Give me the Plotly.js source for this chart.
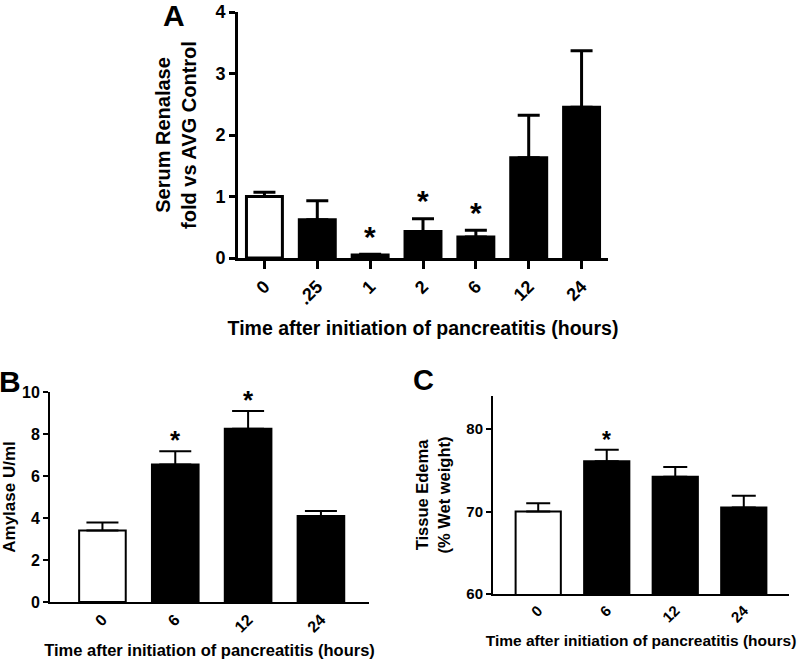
<!DOCTYPE html>
<html><head><meta charset="utf-8">
<script src="https://cdn.plot.ly/plotly-3.0.1.min.js"></script>
<style>html,body{margin:0;padding:0;background:#fff}#chart{width:800px;height:661px}</style>
</head><body><div id="chart"></div>
<script>
// ---- data ----
const catsA = ['0', '.25', '1', '2', '6', '12', '24'];
const valsA = [1.0, 0.62, 0.05, 0.43, 0.34, 1.63, 2.45];
const errA  = [0.07, 0.31, 0.01, 0.21, 0.11, 0.69, 0.92];
const sigA  = [false, false, true, true, true, false, false];

const catsB = ['0', '6', '12', '24'];
const valsB = [3.4, 6.55, 8.25, 4.1];
const errB  = [0.38, 0.63, 0.85, 0.23];
const sigB  = [false, true, true, false];

const catsC = ['0', '6', '12', '24'];
const valsC = [70.0, 76.1, 74.2, 70.5];
const errC  = [1.0, 1.4, 1.2, 1.4];
const sigC  = [false, true, false, false];

const yTitleA = 'Serum Renalase<br>fold vs AVG Control';
const yTitleB = 'Amylase U/ml';
const yTitleC = 'Tissue Edema<br>(% Wet weight)';
const xTitle = 'Time after initiation of pancreatitis (hours)';
const panelLabels = ['A', 'B', 'C'];

// ---- build ----
const FAM = 'Liberation Sans, Arial, Helvetica, sans-serif';
function font(size) { return {family: FAM, size: size, color: '#000', weight: 'bold'}; }

function barTrace(cats, vals, errs, xa, ya, w, lw, capw) {
  return {
    type: 'bar', x: cats, y: vals, xaxis: xa, yaxis: ya, width: w,
    marker: {color: cats.map((c, i) => i === 0 ? '#ffffff' : '#000000'),
             line: {color: '#000000', width: lw}},
    error_y: {type: 'data', symmetric: false, array: errs, arrayminus: errs.map(() => 0),
              color: '#000000', thickness: lw, width: capw},
    hoverinfo: 'skip'
  };
}

const data = [
  barTrace(catsA, valsA, errA, 'x', 'y', 0.68, 3, 11),
  barTrace(catsB, valsB, errB, 'x2', 'y2', 0.64, 2, 16),
  barTrace(catsC, valsC, errC, 'x3', 'y3', 0.66, 2, 12)
];

// significance stars: x given as the category's serial index on its category axis
function stars(cats, vals, errs, sig, xr, yr, size, shift) {
  const out = [];
  cats.forEach((c, i) => {
    if (sig[i]) out.push({x: i, y: vals[i] + errs[i], xref: xr, yref: yr, text: '*',
      showarrow: false, xanchor: 'center', yanchor: 'middle', yshift: shift, font: font(size)});
  });
  return out;
}

const annotations = [].concat(
  stars(catsA, valsA, errA, sigA, 'x', 'y', 30, 18),
  stars(catsB, valsB, errB, sigB, 'x2', 'y2', 26, 11),
  stars(catsC, valsC, errC, sigC, 'x3', 'y3', 23, 10),
  [
    {text: panelLabels[0], x: 173.5 / 800, y: 1 - 15 / 661, xref: 'paper', yref: 'paper', showarrow: false, xanchor: 'center', yanchor: 'middle', font: font(30)},
    {text: panelLabels[1], x: 10 / 800, y: 1 - 381 / 661, xref: 'paper', yref: 'paper', showarrow: false, xanchor: 'center', yanchor: 'middle', font: font(30)},
    {text: panelLabels[2], x: 423 / 800, y: 1 - 380 / 661, xref: 'paper', yref: 'paper', showarrow: false, xanchor: 'center', yanchor: 'middle', font: font(29)}
  ]
);

function xax(domain, anchor, range, lw, ticks, tlen, tfs, titleSize, standoff) {
  return {domain: domain, anchor: anchor, type: 'category', range: range,
    showline: true, linecolor: '#000', linewidth: lw, mirror: false,
    ticks: ticks, ticklen: tlen, tickwidth: lw, tickcolor: '#000',
    tickangle: -45, tickfont: font(tfs), showgrid: false, zeroline: false,
    title: {text: xTitle, font: font(titleSize), standoff: standoff}, fixedrange: true};
}
function yax(domain, anchor, range, tickvals, lw, tlen, tfs, title, titleSize, standoff) {
  return {domain: domain, anchor: anchor, range: range, tickmode: 'array', tickvals: tickvals,
    showline: true, linecolor: '#000', linewidth: lw,
    ticks: 'outside', ticklen: tlen, tickwidth: lw, tickcolor: '#000',
    tickfont: font(tfs), showgrid: false, zeroline: false,
    title: {text: title, font: font(titleSize), standoff: standoff}, fixedrange: true};
}

const layout = {
  width: 800, height: 661, margin: {l: 0, r: 0, t: 0, b: 0},
  paper_bgcolor: '#fff', plot_bgcolor: '#fff', showlegend: false, bargap: 0,
  xaxis:  xax([238 / 800, 608 / 800], 'y', [-0.5, 6.5], 3, 'outside', 8, 18, 19.5, 14),
  yaxis:  yax([1 - 258 / 661, 1 - 12 / 661], 'x', [0, 4], [0, 1, 2, 3, 4], 3, 6, 18, yTitleA, 20, 14),
  xaxis2: xax([50 / 800, 369 / 800], 'y2', [-0.72, 3.66], 2, '', 0, 16, 16.5, 10),
  yaxis2: yax([1 - 602 / 661, 1 - 392 / 661], 'x2', [0, 10], [0, 2, 4, 6, 8, 10], 2, 5, 16, yTitleB, 17, 12),
  xaxis3: xax([493 / 800, 789 / 800], 'y3', [-0.66, 3.66], 2, '', 0, 15, 15.5, 10),
  yaxis3: yax([1 - 594 / 661, 1 - 396 / 661], 'x3', [60, 84], [60, 70, 80], 2, 5, 15, yTitleC, 16.5, 12),
  annotations: annotations
};

Plotly.newPlot('chart', data, layout, {staticPlot: true, displayModeBar: false});
</script>
</body></html>
